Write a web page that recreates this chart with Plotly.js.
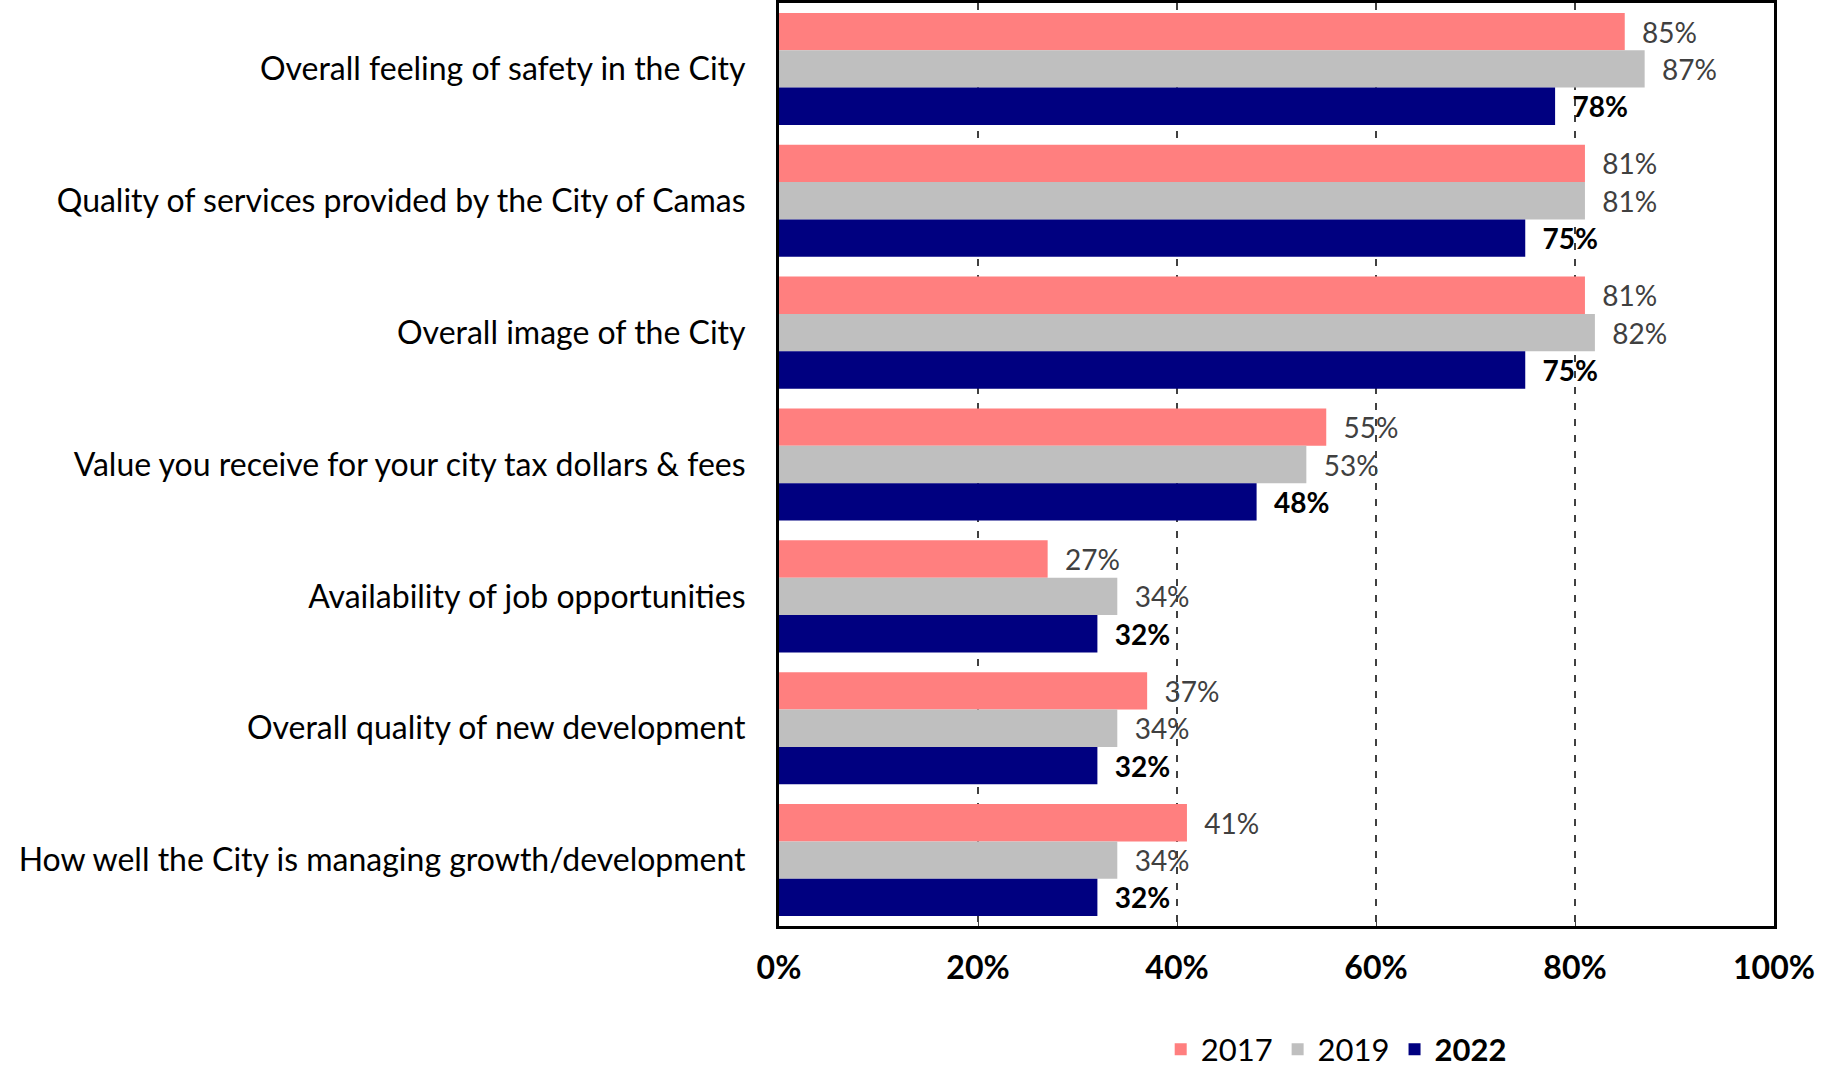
<!DOCTYPE html>
<html>
<head>
<meta charset="utf-8">
<script src="https://cdn.plot.ly/plotly-3.0.1.min.js"></script>
<style>html,body{margin:0;padding:0;background:#fff;}</style>
</head>
<body>
<div id="chart" style="width:1821px;height:1069px;"></div>
<script>
const categories = [
  "Overall feeling of safety in the City",
  "Quality of services provided by the City of Camas",
  "Overall image of the City",
  "Value you receive for your city tax dollars & fees",
  "Availability of job opportunities",
  "Overall quality of new development",
  "How well the City is managing growth/development"
];
const years = ["2017", "2019", "2022"];
const values2017 = [85, 81, 81, 55, 27, 37, 41];
const values2019 = [87, 81, 82, 53, 34, 34, 34];
const values2022 = [78, 75, 75, 48, 32, 32, 32];
const xTickVals = [0, 20, 40, 60, 80, 100];

const colors = ["#FF7F7F", "#BFBFBF", "#000080"];
const FONT = "Lato, 'Open Sans', sans-serif";

function makeTrace(vals, i, bold) {
  return {
    type: "bar",
    orientation: "h",
    y: categories,
    x: vals,
    name: bold ? "<b>" + years[i] + "</b>" : years[i],
    marker: { color: colors[i], line: { width: 0 } },
    texttemplate: "\u00a0\u00a0" + (bold ? "<b>%{x}%</b>" : "%{x}%"),
    textposition: "outside",
    constraintext: "none",
    cliponaxis: false,
    textfont: { family: FONT, size: 28, color: bold ? "#000000" : "#404040" },
    hoverinfo: "skip"
  };
}

const data = [
  makeTrace(values2017, 0, false),
  makeTrace(values2019, 1, false),
  makeTrace(values2022, 2, true)
];

const layout = {
  width: 1821,
  height: 1069,
  margin: { l: 779, r: 47, t: 3, b: 143, pad: 0, autoexpand: false },
  paper_bgcolor: "#ffffff",
  plot_bgcolor: "#ffffff",
  barmode: "group",
  bargap: 0.15,
  bargroupgap: 0,
  showlegend: true,
  legend: {
    orientation: "h",
    x: 0.56, xanchor: "center",
    y: -0.134, yanchor: "middle",
    font: { family: FONT, size: 31, color: "#000000" },
    traceorder: "normal",
    itemclick: false
  },
  xaxis: {
    range: [0, 100],
    tickvals: xTickVals,
    ticktext: xTickVals.map(v => "<b>" + v + "%</b>"),
    showgrid: true,
    gridcolor: "#404040",
    gridwidth: 1.3,
    griddash: "7px,9px",
    zeroline: false,
    showline: true,
    linecolor: "#000000",
    linewidth: 3,
    mirror: "ticks",
    ticks: "inside",
    ticklen: 7,
    tickwidth: 1,
    tickcolor: "#404040",
    ticklabelstandoff: 12,
    automargin: false,
    tickfont: { family: FONT, size: 32, color: "#000000" },
    fixedrange: true
  },
  yaxis: {
    type: "category",
    autorange: "reversed",
    showgrid: false,
    zeroline: false,
    showline: true,
    linecolor: "#000000",
    linewidth: 3,
    mirror: true,
    ticks: "",
    ticklabelstandoff: 24,
    automargin: false,
    tickfont: { family: FONT, size: 32, color: "#000000" },
    fixedrange: true
  }
};

Plotly.newPlot("chart", data, layout, { displayModeBar: false, staticPlot: true });
</script>
</body>
</html>
